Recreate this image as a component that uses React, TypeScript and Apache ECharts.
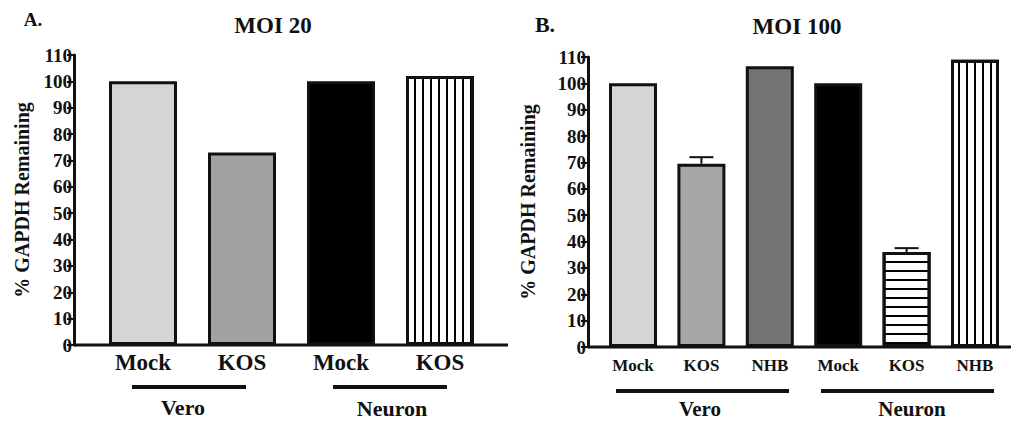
import React, { useEffect, useRef } from "react";
import * as echarts from "echarts";

// ---- data ----
const catsA = ["Mock", "KOS", "Mock", "KOS"];
const valsA = [100, 73, 100, 102];
const catsB = ["Mock", "KOS", "NHB", "Mock", "KOS", "NHB"];
const valsB = [100, 69.5, 106.5, 100, 36, 109];
// error bars for panel B: [category index, mean, upper]
const errB = [
  [1, 69.5, 72],
  [4, 36, 37.5],
];
const groups = ["Vero", "Neuron"];
const titles = ["MOI 20", "MOI 100"];
const panelLetters = ["A.", "B."];
const yTitle = "% GAPDH Remaining";

const FONT = "'Liberation Serif', 'Times New Roman', serif";

const vStripe = {
  symbol: "rect",
  symbolSize: 1,
  dashArrayX: [1, 0],
  dashArrayY: [1.8, 5.7],
  rotation: Math.PI / 2,
  color: "#000",
};
const hStripe = {
  symbol: "rect",
  symbolSize: 1,
  dashArrayX: [1, 0],
  dashArrayY: [1.8, 6.2],
  rotation: 0,
  color: "#000",
};

const stylesA = [
  { color: "#d5d5d5" },
  { color: "#a2a2a2" },
  { color: "#000" },
  { color: "#fff", decal: vStripe },
];
const stylesB = [
  { color: "#d5d5d5" },
  { color: "#a6a6a6" },
  { color: "#747474" },
  { color: "#000" },
  { color: "#fff", decal: hStripe },
  { color: "#fff", decal: vStripe },
];

function yAxisCfg(gridIndex: number, offset: number, nameGap: number) {
  return {
    type: "value",
    gridIndex,
    min: 0,
    max: 110,
    interval: 10,
    offset,
    name: yTitle,
    nameLocation: "middle",
    nameRotate: 90,
    nameGap,
    nameTextStyle: { fontFamily: FONT, fontWeight: "bold", fontSize: 20, color: "#111" },
    axisLine: { show: true, lineStyle: { color: "#111", width: 3 } },
    axisTick: { show: true, length: 7, lineStyle: { color: "#111", width: 2 } },
    axisLabel: { fontFamily: FONT, fontWeight: "bold", fontSize: 19, color: "#111", margin: 2 },
    splitLine: { show: false },
  };
}

function xAxisCfg(gridIndex: number, data: string[], fontSize: number, margin: number) {
  return {
    type: "category",
    gridIndex,
    data,
    boundaryGap: true,
    axisLine: { show: false },
    axisTick: { show: false },
    axisLabel: {
      fontFamily: FONT,
      fontWeight: "bold",
      fontSize,
      color: "#111",
      margin,
      interval: 0,
    },
  };
}

function txt(text: string, x: number, y: number, size: number) {
  return {
    type: "text",
    style: {
      text,
      x,
      y,
      fontFamily: FONT,
      fontWeight: "bold",
      fontSize: size,
      fill: "#111",
      align: "center",
      verticalAlign: "middle",
    },
  };
}

function ln(x1: number, y1: number, x2: number, y2: number, w: number) {
  return {
    type: "line",
    shape: { x1, y1, x2, y2 },
    style: { stroke: "#111", lineWidth: w },
  };
}

export default function App() {
  const ref = useRef<HTMLDivElement>(null);
  useEffect(() => {
    if (!ref.current) return;
    const chart = echarts.init(ref.current, null, { renderer: "svg" });
    const option = {
      animation: false,
      backgroundColor: "#fff",
      grid: [
        { left: 93.5, top: 55, width: 396, height: 290 },
        { left: 598.8, top: 57, width: 410.4, height: 290 },
      ],
      xAxis: [xAxisCfg(0, catsA, 23, 6), xAxisCfg(1, catsB, 17, 10)],
      yAxis: [yAxisCfg(0, 19.5, 42), yAxisCfg(1, 10.8, 50)],
      series: [
        {
          type: "bar",
          xAxisIndex: 0,
          yAxisIndex: 0,
          barWidth: 68,
          data: valsA.map((v, i) => ({
            value: v,
            itemStyle: { ...stylesA[i], borderColor: "#111", borderWidth: 3 },
          })),
        },
        {
          type: "bar",
          xAxisIndex: 1,
          yAxisIndex: 1,
          barWidth: 48,
          data: valsB.map((v, i) => ({
            value: v,
            itemStyle: { ...stylesB[i], borderColor: "#111", borderWidth: 3 },
          })),
        },
        {
          type: "custom",
          xAxisIndex: 1,
          yAxisIndex: 1,
          z: 5,
          data: errB,
          renderItem: (params: any, api: any) => {
            const x = api.value(0);
            const m = api.value(1);
            const t = api.value(2);
            const p1 = api.coord([x, m]);
            const p2 = api.coord([x, t]);
            const st = { stroke: "#111", lineWidth: 2 };
            return {
              type: "group",
              children: [
                { type: "line", shape: { x1: p1[0], y1: p1[1], x2: p2[0], y2: p2[1] }, style: st },
                { type: "line", shape: { x1: p2[0] - 12, y1: p2[1], x2: p2[0] + 12, y2: p2[1] }, style: st },
              ],
            };
          },
        },
      ],
      graphic: [
        ln(74, 345, 508, 345, 3),
        ln(588, 347, 1011, 347, 3),
        ln(132, 387, 246, 387, 4),
        ln(333, 387, 447, 387, 4),
        ln(616, 391, 789, 391, 4),
        ln(821, 391, 994, 391, 4),
        txt(groups[0], 183, 407, 22),
        txt(groups[1], 392, 408, 22),
        txt(groups[0], 700, 409, 21),
        txt(groups[1], 912, 409, 21),
        txt(titles[0], 273, 25, 23),
        txt(titles[1], 797, 26, 23),
        txt(panelLetters[0], 33, 19, 19),
        txt(panelLetters[1], 545, 24, 22),
      ],
    };
    chart.setOption(option as any);
    return () => chart.dispose();
  }, []);
  return (
    <div
      ref={ref}
      style={{ position: "fixed", left: 0, top: 0, width: 1011, height: 421 }}
    />
  );
}
